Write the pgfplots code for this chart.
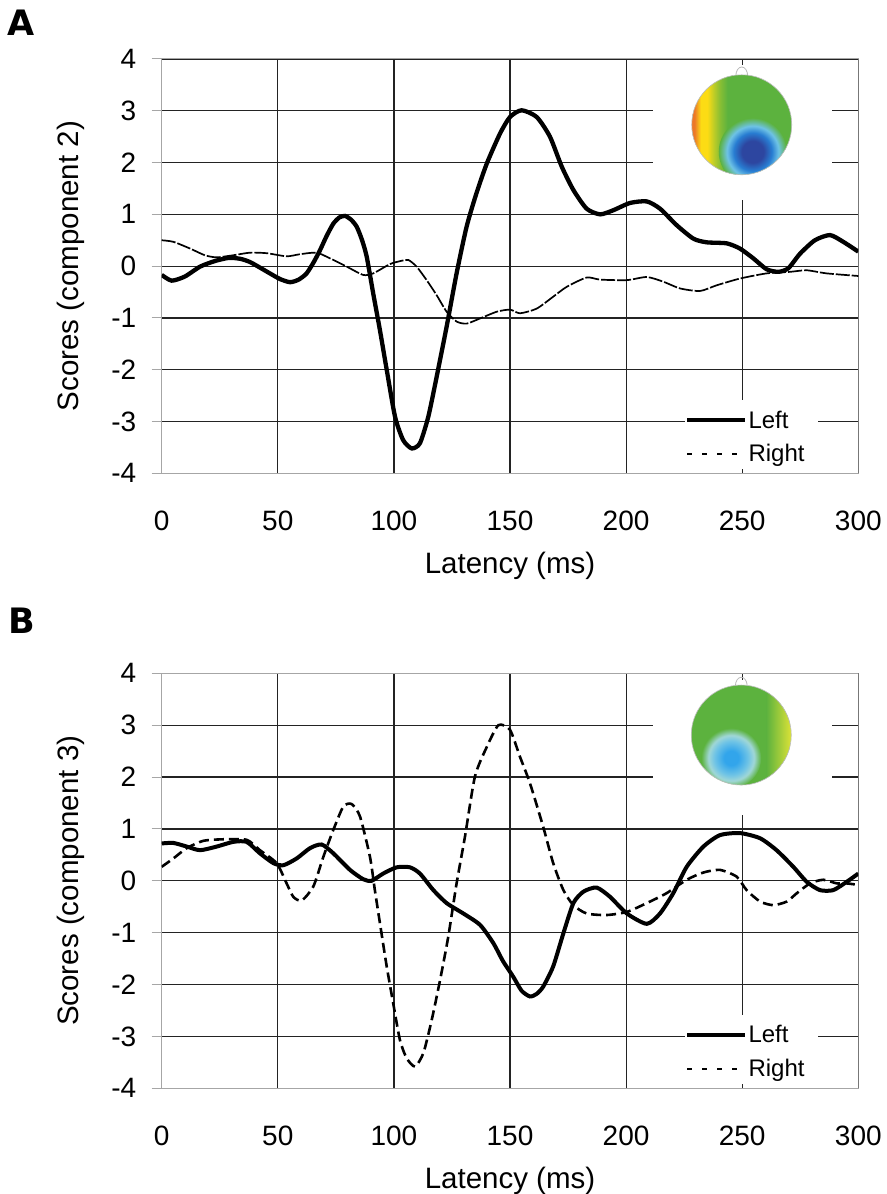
\documentclass[border=0pt]{standalone}
\usepackage{fontspec}
\setmainfont{Liberation Sans}
\newfontfamily\panelfont{DejaVu Sans}[BoldFont={DejaVu Sans Bold}]
\usepackage{pgfplots}
\pgfplotsset{compat=1.18}
\usetikzlibrary{calc}

\definecolor{gridc}{RGB}{35,35,35}
\definecolor{headgreen}{RGB}{92,178,62}
\definecolor{horange}{RGB}{236,120,40}
\definecolor{hyellow}{RGB}{252,220,20}
\definecolor{hyg1}{RGB}{190,205,38}
\definecolor{hyg2}{RGB}{135,190,52}
\definecolor{hyellowB}{RGB}{225,228,55}
\definecolor{hdarkblue}{RGB}{45,70,160}
\definecolor{hmidblue}{RGB}{40,125,210}
\definecolor{hlightblue}{RGB}{110,195,230}
\definecolor{hbluecore}{RGB}{50,165,235}
\definecolor{hpale}{RGB}{160,215,215}

\pgfdeclareradialshading{blobA}{\pgfpoint{0bp}{0bp}}{color(0bp)=(hdarkblue); color(8bp)=(hdarkblue); color(14bp)=(hmidblue); color(19bp)=(hlightblue); color(25bp)=(headgreen); color(50bp)=(headgreen)}
\pgfdeclareradialshading{blobB}{\pgfpoint{0bp}{0bp}}{color(0bp)=(hbluecore); color(6bp)=(hbluecore); color(14bp)=(hlightblue); color(19bp)=(hpale); color(25bp)=(headgreen); color(50bp)=(headgreen)}
\pgfdeclarehorizontalshading{bandA}{100bp}{color(0bp)=(horange); color(25bp)=(horange); color(29bp)=(horange); color(36bp)=(hyellow); color(43bp)=(hyellow); color(50bp)=(hyg1); color(57bp)=(hyg2); color(65bp)=(headgreen); color(100bp)=(headgreen)}

\newcommand\tickfont{\fontsize{28bp}{32bp}\selectfont}
\newcommand\labfont{\fontsize{29.5bp}{33bp}\selectfont}
\newcommand\legfont{\fontsize{24bp}{28bp}\selectfont}

\pgfplotsset{
  eeg/.style={
    scale only axis, width=696.6bp,
    xmin=0, xmax=300, ymin=-4, ymax=4,
    xtick={0,50,...,300}, ytick={-4,-3,...,4},
    grid=major, major grid style={gridc, line width=1.2bp},
    axis line style={gridc, line width=1.2bp},
    y axis line style={gray!70, line width=1bp},
    tick pos=left, tick align=outside, major tick length=10bp,
    xtick style={draw=none}, ytick style={gray!70, line width=1bp},
    /pgf/number format/assume math mode=true,
    tick label style={font=\tickfont},
    xticklabel style={yshift=-24bp},
    yticklabel style={xshift=-12bp},
    label style={font=\labfont},
    xlabel={Latency (ms)},
    xlabel style={at={(axis description cs:0.5,0)}, anchor=base, yshift=-100bp},
    ylabel style={at={(axis description cs:-0.130,0.5)}, anchor=center},
    legend style={draw=none, fill=white, font=\legfont, inner xsep=0bp, inner ysep=2bp,
      nodes={inner sep=1.5bp}, row sep=12bp},
    legend cell align=left,
    legend image code/.code={\draw[#1] (0bp,0bp) -- (58bp,0bp);},
  }
}

\begin{document}
\begin{tikzpicture}
\useasboundingbox (0,0) rectangle (887bp,1194bp);

% ---------------- Panel A ----------------
\begin{axis}[eeg, height=414.3bp, at={(161.7bp,720.7bp)}, anchor=south west,
  ylabel={Scores (component 2)},
  legend style={at={(axis cs:225.3,-2.72)}, anchor=north west}]
\fill[white] (axis cs:211.6,3.88) rectangle (axis cs:288.6,1.27);
\fill[white] (axis cs:225.3,-2.59) rectangle (axis cs:282.6,-3.92);
\coordinate (hA) at (axis cs:249.8,2.73);
\addlegendimage{black, line width=4bp}
\addlegendentry{Left}
\addlegendimage{black, line width=2bp, dash pattern=on 5bp off 10bp}
\addlegendentry{Right}
\addplot[forget plot, black, line width=1.7bp, dash pattern=on 14bp off 2bp, smooth, tension=0.4] coordinates {
(0,0.5) (5,0.47) (12.2,0.34) (18.6,0.21) (23.7,0.17) (30.8,0.21) (38,0.26) (45.2,0.25) (53.8,0.19) (59.5,0.23) (66.7,0.26) (72.5,0.15) (79.7,-0.01) (86.8,-0.17) (91.1,-0.14) (98.3,0.04) (103,0.1) (106.2,0.12) (109.8,-0.01) (114.1,-0.27) (118.4,-0.56) (122.7,-0.88) (127,-1.07) (131.3,-1.11) (137.1,-1.01) (144.3,-0.88) (150,-0.84) (154.3,-0.91) (161.5,-0.82) (168.6,-0.59) (174.4,-0.40) (183,-0.22) (188.8,-0.26) (200.3,-0.27) (208.9,-0.21) (216,-0.30) (223.2,-0.43) (231.8,-0.48) (239,-0.37) (249,-0.24) (260.5,-0.14) (270.6,-0.11) (277.8,-0.08) (286.4,-0.14) (300,-0.19)};
\addplot[forget plot, black, line width=4.3bp, smooth, tension=0.4] coordinates {
(0,-0.17) (4.3,-0.28) (10,-0.2) (16.5,-0.01) (23,0.1) (29,0.16) (34,0.14) (38,0.08) (42,-0.02) (46.6,-0.14) (51,-0.25) (55.3,-0.31) (59,-0.26) (62.4,-0.14) (65.5,0.08) (68.2,0.31) (71,0.58) (73.9,0.82) (76.5,0.94) (78.9,0.97) (81.5,0.9) (84,0.76) (86.3,0.5) (88.3,0.18) (91.1,-0.53) (94,-1.24) (96.9,-2.0) (100.5,-2.91) (104,-3.36) (107.7,-3.52) (111.2,-3.42) (114.8,-2.91) (118.4,-2.14) (122.7,-1.17) (127,-0.14) (131.3,0.76) (135.5,1.4) (140,1.98) (145.7,2.56) (150,2.88) (155,3.01) (161.5,2.88) (167.2,2.50) (172.3,1.92) (177.3,1.47) (183,1.11) (188.8,1.0) (194.5,1.08) (201.7,1.22) (208.9,1.25) (214.6,1.11) (221.8,0.79) (229,0.53) (234.7,0.46) (243.3,0.44) (249,0.34) (254.8,0.15) (260.5,-0.06) (265.6,-0.11) (269.9,-0.04) (274.9,0.24) (281.3,0.5) (287.8,0.6) (293.5,0.47) (300,0.28)};
\draw[gridc, line width=1.2bp] (rel axis cs:1,0) -- (rel axis cs:1,1);
\end{axis}

% ---------------- Panel B ----------------
\begin{axis}[eeg, height=415bp, at={(161.7bp,105.7bp)}, anchor=south west,
  ylabel={Scores (component 3)},
  legend style={at={(axis cs:225.3,-2.72)}, anchor=north west}]
\fill[white] (axis cs:211.6,3.88) rectangle (axis cs:288.6,1.27);
\fill[white] (axis cs:225.3,-2.59) rectangle (axis cs:282.6,-3.92);
\coordinate (hB) at (axis cs:249.6,2.81);
\addlegendimage{black, line width=4bp}
\addlegendentry{Left}
\addlegendimage{black, line width=2bp, dash pattern=on 5bp off 10bp}
\addlegendentry{Right}
\addplot[forget plot, black, line width=2.6bp, dash pattern=on 10bp off 5bp, smooth, tension=0.4] coordinates {
(0,0.27) (5,0.43) (10.8,0.63) (17.9,0.77) (26.5,0.80) (36.6,0.79) (42.3,0.59) (49.5,0.34) (53.8,-0.05) (56.7,-0.31) (60.3,-0.38) (65.3,-0.11) (69.6,0.46) (73.9,0.98) (78.2,1.43) (81.8,1.48) (85.4,1.24) (89.7,0.46) (91.8,-0.18) (94,-0.82) (96.9,-1.65) (99.7,-2.36) (102.6,-3.07) (105.5,-3.42) (109.1,-3.58) (112.7,-3.32) (116.3,-2.68) (119.9,-1.91) (123.4,-1.08) (127,-0.05) (130.6,0.85) (134.9,2.01) (140,2.58) (145,3.0) (150,2.91) (154.3,2.39) (158.6,1.88) (164.3,1.04) (168.6,0.34) (173,-0.18) (177.3,-0.47) (183,-0.63) (191.6,-0.66) (200.3,-0.60) (208.9,-0.43) (217.4,-0.24) (226.1,0.02) (233.3,0.16) (240.4,0.21) (247.6,0.08) (251.9,-0.18) (257.7,-0.40) (263.4,-0.47) (269.2,-0.40) (273.5,-0.24) (279.2,-0.05) (284.9,0.02) (290.7,-0.05) (295,-0.05) (300,-0.08)};
\addplot[forget plot, black, line width=4bp, smooth, tension=0.4] coordinates {
(0,0.72) (5,0.73) (10.8,0.66) (16.5,0.59) (23.7,0.66) (30.8,0.75) (36.6,0.75) (42.3,0.53) (48.1,0.34) (52.4,0.30) (58.1,0.43) (63.9,0.63) (68.9,0.70) (73.9,0.53) (81.1,0.21) (86.8,0.03) (90.4,0.0) (95.4,0.14) (101.2,0.26) (106.9,0.26) (111.2,0.14) (117,-0.18) (122.7,-0.43) (129.9,-0.63) (137.1,-0.85) (142.8,-1.20) (147,-1.55) (151.4,-1.85) (155,-2.12) (158.6,-2.23) (161.5,-2.18) (164.3,-2.04) (168.6,-1.65) (173,-1.01) (177.3,-0.43) (181.6,-0.21) (187.3,-0.13) (193.1,-0.31) (200.3,-0.63) (208.9,-0.83) (214.6,-0.63) (220.3,-0.24) (226.1,0.27) (233.3,0.66) (240.4,0.88) (249,0.92) (257.7,0.82) (264.8,0.59) (272,0.27) (277.8,-0.02) (283.5,-0.18) (289.2,-0.18) (295,-0.02) (300,0.14)};
\draw[gridc, line width=1.2bp] (rel axis cs:1,0) -- (rel axis cs:1,1);
\end{axis}

% ---------------- Head maps (decoration) ----------------
\begin{scope}[shift={(hA)}]
  \draw[gray!55, line width=0.8bp] (-6bp,48bp) .. controls (-6bp,61bp) and (6bp,61bp) .. (6bp,48bp);
  \begin{scope}
    \clip (0,0) circle[radius=50bp];
    \fill[headgreen] (-50bp,-50bp) rectangle (50bp,50bp);
    \shade[shading=bandA] (-51bp,-50bp) rectangle (-5bp,50bp);
    \shade[shading=blobA] (11bp,-27bp) circle[radius=34bp];
  \end{scope}
  \draw[gray!50, line width=0.6bp] (0,0) circle[radius=50bp];
\end{scope}
\begin{scope}[shift={(hB)}]
  \draw[gray!55, line width=0.8bp] (-6bp,48bp) .. controls (-6bp,61bp) and (6bp,61bp) .. (6bp,48bp);
  \begin{scope}
    \clip (0,0) circle[radius=50bp];
    \fill[headgreen] (-50bp,-50bp) rectangle (50bp,50bp);
    \shade[left color=headgreen, right color=hyellowB] (25bp,-50bp) rectangle (51bp,50bp);
    \shade[shading=blobB] (-10bp,-23bp) circle[radius=30bp];
  \end{scope}
  \draw[gray!50, line width=0.6bp] (0,0) circle[radius=50bp];
\end{scope}

% ---------------- Panel letters ----------------
\node[anchor=north west, inner sep=0pt, font=\panelfont\bfseries\fontsize{35bp}{38bp}\selectfont] at (7bp,1184bp) {A};
\node[anchor=north west, inner sep=0pt, font=\panelfont\bfseries\fontsize{35bp}{38bp}\selectfont] at (8bp,586bp) {B};
\end{tikzpicture}
\end{document}
